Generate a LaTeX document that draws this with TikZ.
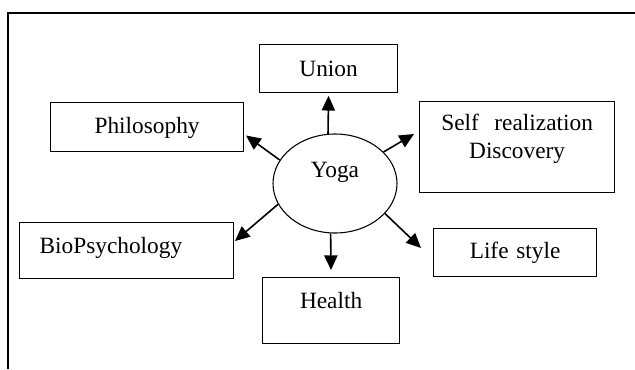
\documentclass[tikz,border=0pt]{standalone}
\usepackage{fontspec}
\setmainfont{Liberation Serif}
\usepackage{tikz}
\usetikzlibrary{arrows.meta,shapes.geometric}

\begin{document}
\begin{tikzpicture}[x=0.75pt, y=-0.75pt, >={Triangle[length=11pt, width=10pt]},
		box/.style={draw, line width=0.9pt, inner sep=0pt, align=center, anchor=north west,
			font=\fontsize{17.5}{21}\selectfont},
		arr/.style={->, line width=1.2pt}]
		% 1. 画布与边框
		\useasboundingbox (0,0) rectangle (635,369);
		\draw[line width=0.8pt] (8,369) -- (8,13) -- (635,13);
		
		% 2. 中心椭圆
		\node[ellipse, draw, line width=0.8pt, inner sep=0pt, minimum width=93pt, minimum height=74.25pt,
			text height=9pt, text depth=18.75pt, font=\fontsize{17.5}{21}\selectfont] (yoga) at (335,183.5) {Yoga};
		
		% 3. 周围的方框 (左上角定位)
		\node[box, text width=103.5pt, text height=24pt, text depth=12pt] (union) at (259,44) {Union};
		\node[box, text width=144.75pt, text height=23.25pt, text depth=13.5pt] (philo) at (50,102) {Philosophy};
		\node[box, text width=146.25pt, text height=21.75pt, text depth=46.5pt] (self) at (419,101) {Self\ \ realization\\Discovery};
		\node[box, text width=130.5pt, inner xsep=15pt, align=left, text height=23pt, text depth=19pt] (bio) at (19,222) {BioPsychology};
		\node[box, text width=102.75pt, text height=23.25pt, text depth=26.25pt] (health) at (262,277) {Health};
		\node[box, text width=122.25pt, text height=22.5pt, text depth=13.5pt] (life) at (433,228) {Life style};
		
		% 4. 斜向箭头的终点
		\coordinate (tipP) at (246,135.5);
		\coordinate (tipS) at (414,134);
		\coordinate (tipB) at (235,241);
		\coordinate (tipL) at (421,248);
		
		% 5. 箭头
		\draw[arr, shorten >=2pt] (yoga.98) -- (union.south);
		\draw[arr, shorten >=5.25pt] (yoga.265) -- (health.north);
		\draw[arr] (yoga.157.5) -- (tipP);
		\draw[arr] (yoga.33.3) -- (tipS);
		\draw[arr] (yoga.200) -- (tipB);
		\draw[arr] (yoga.329.5) -- (tipL);
		
	\end{tikzpicture}
\end{document}
